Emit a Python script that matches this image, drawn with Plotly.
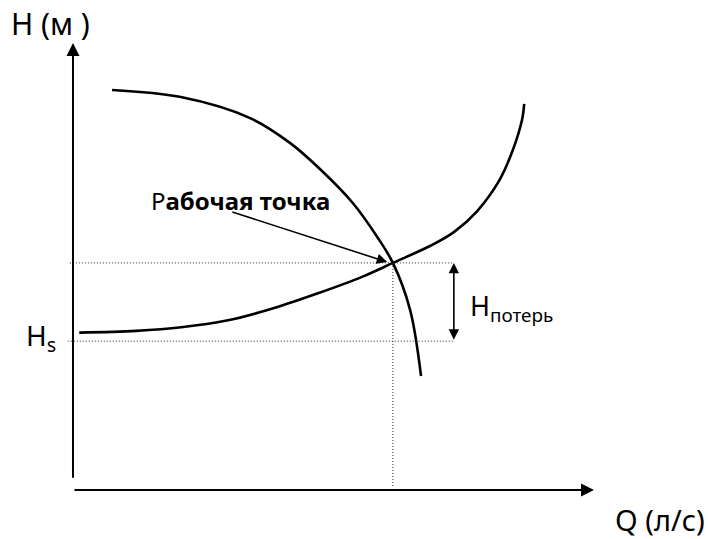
import plotly.graph_objects as go

# Schematic values (Q in arbitrary л/с units, H in arbitrary м units)
pump_q = [7.5, 20.7, 34.0, 41.7, 47.4, 53.7, 58.4, 61.4, 64.7, 66.8]
pump_h = [89.5, 87.9, 83.2, 77.6, 71.8, 64.2, 56.6, 50.8, 40.3, 25.5]

sys_q = [1.2, 12.1, 20.8, 29.5, 38.3, 47.0, 55.7, 61.4, 68.7, 73.1, 77.5, 81.8, 84.4, 86.2, 86.6]
sys_h = [35.2, 35.6, 36.4, 37.9, 40.6, 44.0, 47.8, 50.8, 54.7, 57.7, 62.3, 69.2, 76.0, 82.9, 86.4]

q_work = 61.4
h_work = 50.8
h_s = 33.3
q_loss = 73.1

FONT = "Noto Sans"

fig = go.Figure()
fig.add_trace(go.Scatter(x=pump_q, y=pump_h, mode="lines",
                         line=dict(color="black", width=2.6, shape="spline", smoothing=1.0),
                         hoverinfo="skip"))
fig.add_trace(go.Scatter(x=sys_q, y=sys_h, mode="lines",
                         line=dict(color="black", width=2.6, shape="spline", smoothing=1.0),
                         hoverinfo="skip"))
# dotted guides
dot = dict(color="#222", width=1, dash="1px,2px")
fig.add_trace(go.Scatter(x=[-0.6, q_loss], y=[h_work, h_work], mode="lines",
                         line=dot, hoverinfo="skip"))
fig.add_trace(go.Scatter(x=[-1.0, q_loss], y=[h_s, h_s], mode="lines",
                         line=dot, hoverinfo="skip"))
fig.add_trace(go.Scatter(x=[q_work, q_work], y=[h_work, 0.9], mode="lines",
                         line=dot, hoverinfo="skip"))

ann = []
# axes with arrows
ann.append(dict(x=0, y=100, ax=0, ay=2.4, xref="x", yref="y", axref="x", ayref="y",
                showarrow=True, arrowhead=2, arrowsize=1.3, arrowwidth=2, arrowcolor="black", text=""))
ann.append(dict(x=100, y=0, ax=0, ay=0, xref="x", yref="y", axref="x", ayref="y",
                showarrow=True, arrowhead=2, arrowsize=1.3, arrowwidth=2, arrowcolor="black", text=""))
# working point arrow
ann.append(dict(x=60.3, y=51.0, ax=30.3, ay=62.3, xref="x", yref="y", axref="x", ayref="y",
                showarrow=True, arrowhead=2, arrowsize=1.3, arrowwidth=1.6, arrowcolor="black", text=""))
# H losses double arrow
ann.append(dict(x=q_loss, y=h_work, ax=q_loss, ay=h_s, xref="x", yref="y", axref="x", ayref="y",
                showarrow=True, arrowhead=2, startarrowhead=2, arrowside="end+start",
                arrowsize=1.3, startarrowsize=1.3, arrowwidth=1.6, arrowcolor="black", text=""))
# labels
ann.append(dict(x=-12.2, y=104.3, xref="x", yref="y", text="H (м )", showarrow=False,
                xanchor="left", font=dict(family=FONT, size=30, color="black")))
ann.append(dict(x=121.6, y=-6.6, xref="x", yref="y", text="Q (л/с)", showarrow=False,
                xanchor="right", font=dict(family=FONT, size=29, color="black")))
ann.append(dict(x=-2.8, y=h_s + 1.0, xref="x", yref="y", text="H<sub>s</sub>", showarrow=False,
                xanchor="right", font=dict(family=FONT, size=28, color="black")))
ann.append(dict(x=14.6, y=64.7, xref="x", yref="y", text="Р<b>абочая точка</b>", showarrow=False,
                xanchor="left", font=dict(family=FONT, size=24, color="black")))
ann.append(dict(x=75.8, y=40.9, xref="x", yref="y", text="H<sub>потерь</sub>", showarrow=False,
                xanchor="left", font=dict(family=FONT, size=27, color="black")))

fig.update_layout(
    width=708, height=539,
    margin=dict(l=0, r=0, t=0, b=0),
    paper_bgcolor="white", plot_bgcolor="white",
    showlegend=False,
    annotations=ann,
    xaxis=dict(range=[-14.01, 121.88], visible=False, fixedrange=True),
    yaxis=dict(range=[-10.96, 109.62], visible=False, fixedrange=True),
)
fig.write_html("out.html", config={"displayModeBar": False},
               post_script="document.body.style.margin='0';")
